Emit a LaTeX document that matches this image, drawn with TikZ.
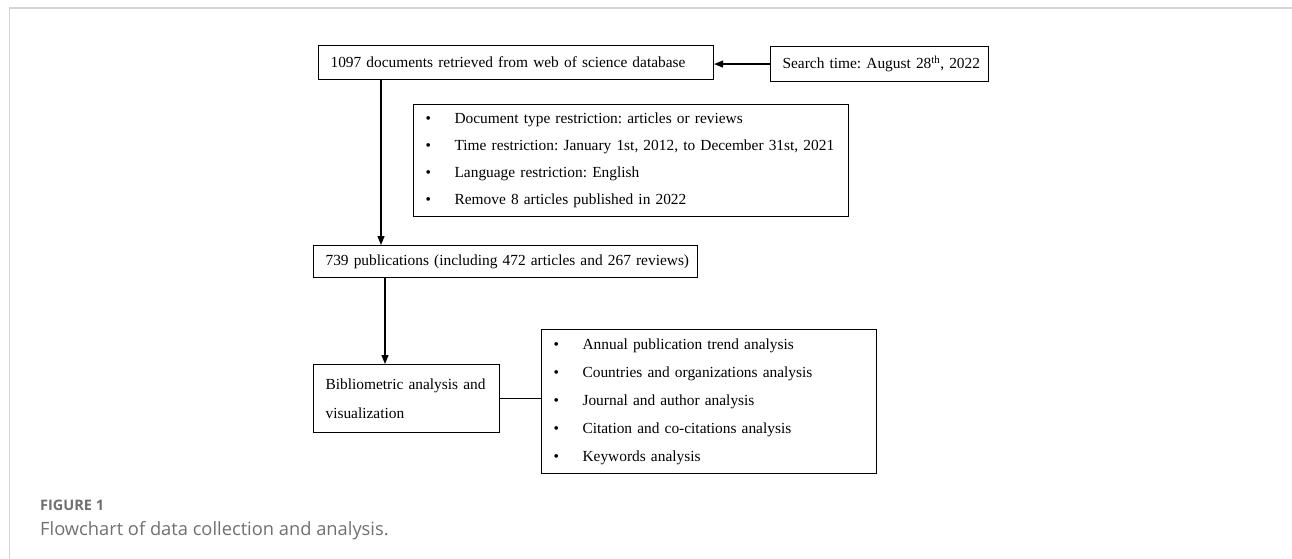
\documentclass[tikz,border=0pt]{standalone}
\usepackage{fontspec}
\setmainfont{Liberation Serif}
\newfontfamily\capfont{Open Sans}
\usetikzlibrary{arrows.meta}
\definecolor{framec}{HTML}{D4D4D4}
\definecolor{capc}{HTML}{707070}
\newcommand{\bitem}[1]{\mbox{\makebox[29pt][l]{\textbullet}#1}}
\begin{document}
\frenchspacing
\begin{tikzpicture}[x=1pt,y=-1pt,
  box/.style={draw=black, line width=1.1pt, anchor=north west, inner xsep=12pt, inner ysep=0pt,
    align=left, font=\fontsize{15.4}{27}\selectfont},
  conn/.style={line width=1.1pt, draw=black},
  arr/.style={conn, -{Triangle[length=9pt,width=7pt]}}]
\useasboundingbox (0,0) rectangle (1292,559);
\draw[framec, line width=1.6pt] (9.5,559) -- (9.5,8) -- (1292,8);

\node[box, text width=371pt, minimum height=34pt] (ret) at (318,45)
  {\mbox{1097 documents retrieved from web of science database}};
\node[box, text width=194pt, minimum height=35pt, inner xsep=12pt] (search) at (770,46)
  {\mbox{Search time: August 28\textsuperscript{th}, 2022}};
\node[box, text width=411pt, minimum height=112pt, inner xsep=12pt] (restr) at (413,104)
  {\bitem{Document type restriction: articles or reviews}\\
   \bitem{Time restriction: January 1st, 2012, to December 31st, 2021}\\
   \bitem{Language restriction: English}\\
   \bitem{Remove 8 articles published in 2022}};
\node[box, text width=360pt, minimum height=32pt] (pub) at (313,245)
  {\mbox{739 publications (including 472 articles and 267 reviews)}};
\node[box, text width=162pt, minimum height=68pt, font=\fontsize{15.4}{29}\selectfont] (bib) at (313,364)
  {\mbox{Bibliometric analysis and}\\\mbox{visualization}};
\node[box, text width=311pt, minimum height=144pt, inner xsep=12pt, font=\fontsize{15.4}{28}\selectfont] (ana) at (541,329)
  {\bitem{Annual publication trend analysis}\\
   \bitem{Countries and organizations analysis}\\
   \bitem{Journal and author analysis}\\
   \bitem{Citation and co-citations analysis}\\
   \bitem{Keywords analysis}};

\draw[arr] (search.west) -- (search.west -| ret.east);
\draw[arr] (ret.south west) ++(63,0) coordinate (a1) -- (a1 |- pub.north);
\draw[arr] (pub.south west) ++(72,0) coordinate (a2) -- (a2 |- bib.north);
\draw[conn] (bib.east) -- (ana.west |- bib.east);

\node[anchor=base west, inner sep=0pt, text=capc, font=\capfont\bfseries\fontsize{14.5}{16}\selectfont] (fig) at (40,510) {FIGURE 1};
\node[anchor=base west, inner sep=0pt, text=capc, font=\capfont\fontsize{18.3}{20}\selectfont] (cap) at (40,535) {Flowchart of data collection and analysis.};
\end{tikzpicture}
\end{document}
